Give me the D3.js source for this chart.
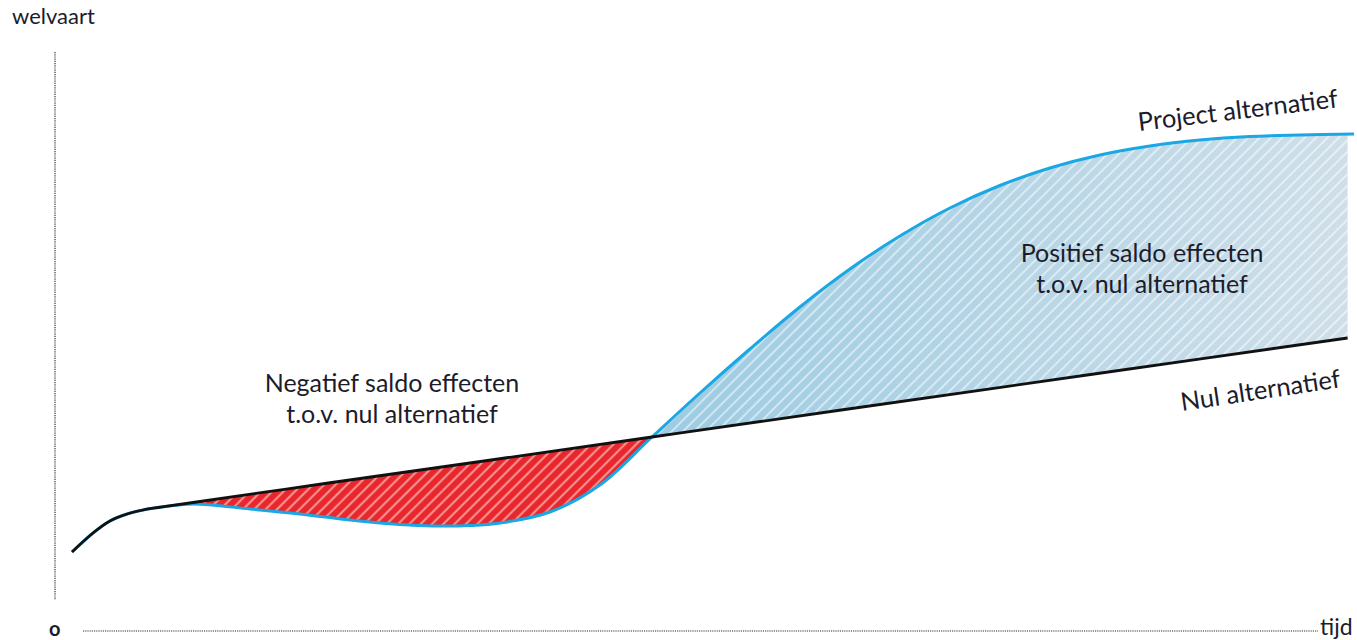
<!DOCTYPE html>
<html>
<head>
<meta charset="utf-8">
<script src="https://cdn.jsdelivr.net/npm/d3@7"></script>
<style>
	body { margin: 0; background: #fff; }
	text { font-family: Lato, "Open Sans", sans-serif; fill: #1c1c2c; }
</style>
</head>
<body>
<div id="chart"></div>
<script>
// tijd (jaren) en welvaart (index) van het nul alternatief
var nulTijd = [0, 0.82, 1.48, 2.15, 2.77, 3.43, 4.72, 10, 16, 22.62, 30, 40, 49.75];
var nulWelvaart = [9.6, 13.4, 15.8, 17.2, 18.0, 18.55, 19.5, 23.4, 27.75, 32.6, 38.0, 45.3, 52.4];

// project alternatief
var projectTijd = [0, 0.82, 1.48, 2.15, 2.77, 3.43, 4.72, 6.94, 8.89, 10.84, 12.79, 14.08, 15.52, 16.69,
	18.64, 20.59, 22.62, 24.49, 26.44, 28.39, 30.34, 32.29, 34.24, 36.19, 38.14, 40.09, 42.04, 43.99,
	45.94, 47.89, 50];
var projectWelvaart = [9.6, 13.4, 15.8, 17.2, 18.0, 18.55, 19.2, 18.2, 17.2, 16.0, 15.1, 14.8, 14.9, 15.4,
	17.6, 23.0, 32.6, 41.4, 50.2, 58.6, 66.2, 72.8, 78.4, 82.9, 86.4, 89.0, 90.8, 92.0,
	92.7, 93.0, 93.2];

var snijpunt = 22.62; // tijd waarop project = nul alternatief

var width = 1357, height = 640;

var svg = d3.select('#chart')
	.append('svg')
	.attr('width', width)
	.attr('height', height);

var x = d3.scaleLinear().domain([0, 50]).range([72, 1354]);
var y = d3.scaleLinear().domain([0, 100]).range([600, 100]);

var nulData = nulTijd.map(function (t, i) { return [t, nulWelvaart[i]]; });
var projectData = projectTijd.map(function (t, i) { return [t, projectWelvaart[i]]; });

var defs = svg.append('defs');

// arcering: rood vlak met lichte strepen
var pr = defs.append('pattern')
	.attr('id', 'roodArcering')
	.attr('patternUnits', 'userSpaceOnUse')
	.attr('width', 8)
	.attr('height', 8)
	.attr('patternTransform', 'rotate(45)');
pr.append('rect').attr('width', 8).attr('height', 8).attr('fill', '#e8262b');
pr.append('line')
	.attr('x1', 4).attr('y1', -2).attr('x2', 4).attr('y2', 10)
	.attr('stroke', '#ffd6d6')
	.attr('stroke-opacity', 0.6)
	.attr('stroke-width', 2.2);

var grad = defs.append('linearGradient')
	.attr('id', 'blauwGrad')
	.attr('gradientUnits', 'userSpaceOnUse')
	.attr('x1', x(snijpunt)).attr('x2', x(50))
	.attr('y1', 0).attr('y2', 0);
grad.append('stop').attr('offset', 0).attr('stop-color', '#9ccbe2');
grad.append('stop').attr('offset', 1).attr('stop-color', '#cfdfe9');

var pb = defs.append('pattern')
	.attr('id', 'blauwArcering')
	.attr('patternUnits', 'userSpaceOnUse')
	.attr('width', 8)
	.attr('height', 8)
	.attr('patternTransform', 'rotate(45)');
pb.append('line')
	.attr('x1', 4).attr('y1', -2).attr('x2', 4).attr('y2', 10)
	.attr('stroke', '#ffffff')
	.attr('stroke-opacity', 0.5)
	.attr('stroke-width', 2);

var curve = d3.curveCatmullRom.alpha(0.5);

// gebied onder / boven een lijn
var onder = d3.area().curve(curve)
	.x(function (d) { return x(d[0]); })
	.y0(height)
	.y1(function (d) { return y(d[1]); });
var boven = d3.area().curve(curve)
	.x(function (d) { return x(d[0]); })
	.y0(0)
	.y1(function (d) { return y(d[1]); });

defs.append('clipPath').attr('id', 'clipOnderNul')
	.append('path').attr('d', onder(nulData));
defs.append('clipPath').attr('id', 'clipBovenNul')
	.append('path').attr('d', boven(nulData));

// negatief saldo: boven project, onder nul
svg.append('path')
	.attr('d', boven(projectData))
	.attr('clip-path', 'url(#clipOnderNul)')
	.attr('fill', 'url(#roodArcering)');

// positief saldo: onder project, boven nul
var g = svg.append('g').attr('clip-path', 'url(#clipBovenNul)');
g.append('path')
	.attr('d', onder(projectData))
	.attr('fill', 'url(#blauwGrad)');
g.append('path')
	.attr('d', onder(projectData))
	.attr('fill', 'url(#blauwArcering)');

var line = d3.line().curve(curve)
	.x(function (d) { return x(d[0]); })
	.y(function (d) { return y(d[1]); });

svg.append('path')
	.attr('d', line(projectData))
	.attr('fill', 'none')
	.attr('stroke', '#1aa7e4')
	.attr('stroke-width', 3);

svg.append('path')
	.attr('d', line(nulData))
	.attr('fill', 'none')
	.attr('stroke', '#111')
	.attr('stroke-width', 2.8);

// assen (stippellijnen)
svg.append('line')
	.attr('x1', 55).attr('x2', 55)
	.attr('y1', 52).attr('y2', 600)
	.attr('stroke', '#333')
	.attr('stroke-width', 1.2)
	.attr('stroke-dasharray', '1.2,1');
svg.append('line')
	.attr('x1', 83).attr('x2', 1318)
	.attr('y1', 631).attr('y2', 631)
	.attr('stroke', '#333')
	.attr('stroke-width', 1.2)
	.attr('stroke-dasharray', '1.2,1');

svg.append('text').attr('x', 12).attr('y', 24)
	.style('font-size', '22px').text('welvaart');
svg.append('text').attr('x', 49).attr('y', 636)
	.style('font-size', '20px').style('font-weight', 'bold').text('o');
svg.append('text').attr('x', 1320).attr('y', 635)
	.style('font-size', '23px').text('tijd');

function tweeRegels(cx, cy, r1, r2) {
	var t = svg.append('text')
		.attr('text-anchor', 'middle')
		.style('font-size', '25px');
	t.append('tspan').attr('x', cx).attr('y', cy).text(r1);
	t.append('tspan').attr('x', cx).attr('dy', 31).text(r2);
}
tweeRegels(392, 392, 'Negatief saldo effecten', 't.o.v. nul alternatief');
tweeRegels(1142, 262, 'Positief saldo effecten', 't.o.v. nul alternatief');

svg.append('text')
	.attr('transform', 'translate(1139,131) rotate(-6.8)')
	.style('font-size', '25.5px')
	.text('Project alternatief');
svg.append('text')
	.attr('transform', 'translate(1182,411) rotate(-8.5)')
	.style('font-size', '25.5px')
	.text('Nul alternatief');
</script>
</body>
</html>
